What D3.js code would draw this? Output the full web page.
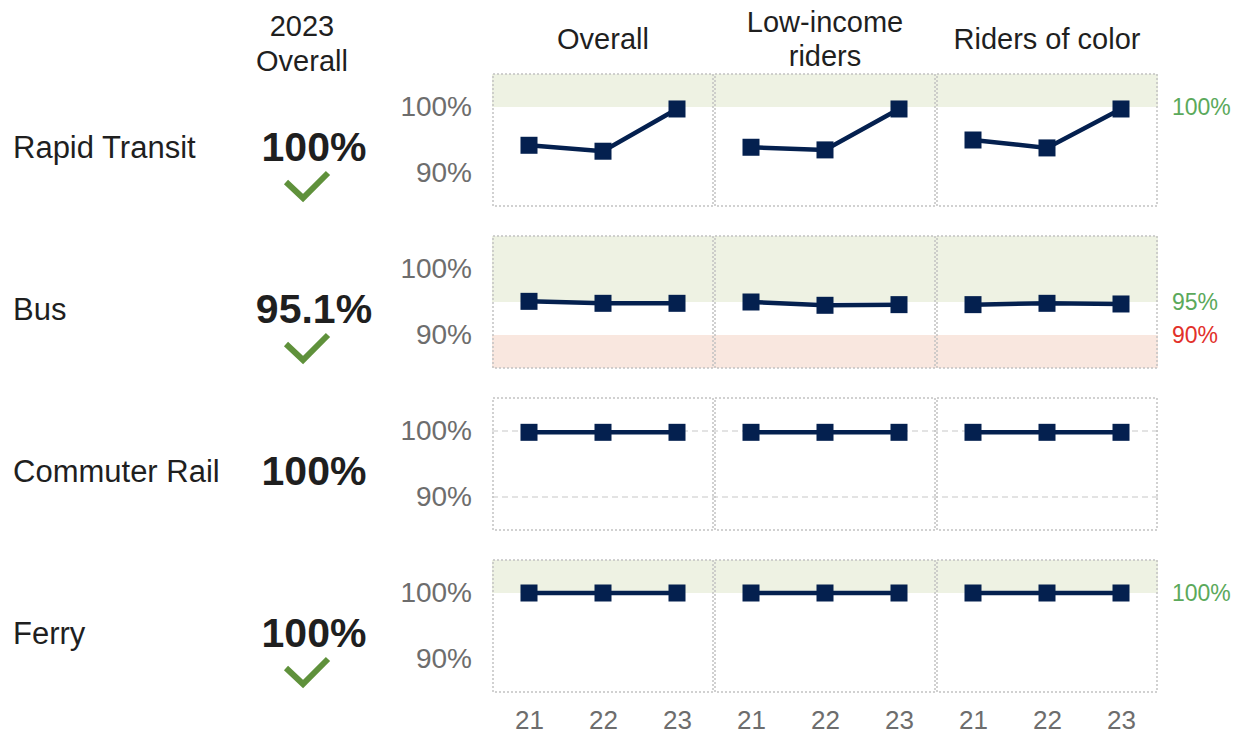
<!DOCTYPE html>
<html>
<head>
<meta charset="utf-8">
<script src="https://cdn.jsdelivr.net/npm/d3@7"></script>
<style>
  body { margin: 0; background: #fff; }
  svg { display: block; font-family: Arial, "Liberation Sans", sans-serif; }
</style>
</head>
<body>
<div id="chart"></div>
<script>
// Data
const modes = ['Rapid Transit', 'Bus', 'Commuter Rail', 'Ferry'];
const groups = [['Overall'], ['Low-income', 'riders'], ['Riders of color']];
const years = ['21', '22', '23'];
const overall2023 = ['100%', '95.1%', '100%', '100%'];
const metTarget = [true, true, false, true];

// one array per mode, one row per group, one value per year
const rapidTransit = [[94.2, 93.3, 99.7], [93.9, 93.5, 99.7], [95.0, 93.8, 99.7]];
const bus = [[95.1, 94.8, 94.8], [95.0, 94.5, 94.6], [94.6, 94.8, 94.7]];
const commuterRail = [[99.8, 99.8, 99.8], [99.8, 99.8, 99.8], [99.8, 99.8, 99.8]];
const ferry = [[100, 100, 100], [100, 100, 100], [100, 100, 100]];
const seriesByMode = [rapidTransit, bus, commuterRail, ferry];

const goodFrom = [100, 95, null, 100];   // green band above
const badBelow = [null, 90, null, null]; // red band below
const showGrid = [false, false, true, false];
const yTicks = [90, 100];

// Layout
const W = 1242, H = 738;
const panelLeft = 492, panelW = 222, panelH = 132;
const rowTops = [74, 236, 398, 560];
const colors = {
  line: '#04204f', good: '#eef2e3', bad: '#f9e7df', border: '#c2c2c2',
  grid: '#dadada', axis: '#6d6d6d', text: '#1f1f1f', check: '#5f913b',
  goodText: '#5ba95b', badText: '#e2302a'
};

const svg = d3.select('#chart').append('svg')
  .attr('width', W).attr('height', H);

const x = d3.scalePoint().domain(years).range([0, panelW]).padding(0.5);
const xFull = d3.scaleLinear().domain([0, groups.length]).range([panelLeft, panelLeft + panelW * groups.length]);

// Column headers
svg.append('text').attr('x', 302).attr('y', 36).attr('text-anchor', 'middle')
  .attr('font-size', 29).attr('fill', colors.text).text('2023');
svg.append('text').attr('x', 302).attr('y', 71).attr('text-anchor', 'middle')
  .attr('font-size', 29).attr('fill', colors.text).text('Overall');

groups.forEach((g, gi) => {
  const cx = xFull(gi + 0.5);
  const baseY = g.length === 1 ? 49 : 32;
  g.forEach((line, li) => {
    svg.append('text').attr('x', cx).attr('y', baseY + li * 34)
      .attr('text-anchor', 'middle').attr('font-size', 29)
      .attr('fill', colors.text).text(line);
  });
});

modes.forEach((mode, mi) => {
  const top = rowTops[mi];
  const y = d3.scaleLinear().domain([85, 105]).range([top + panelH, top]);
  const row = svg.append('g').attr('class', 'row');

  // Left labels
  row.append('text').attr('x', 13).attr('y', top + 84)
    .attr('font-size', 31).attr('fill', colors.text).text(mode);
  row.append('text').attr('x', 314).attr('y', top + 87)
    .attr('text-anchor', 'middle').attr('font-size', 41).attr('font-weight', 'bold')
    .attr('fill', colors.text).text(overall2023[mi]);
  if (metTarget[mi]) {
    row.append('path')
      .attr('d', `M286,${top + 108} L303,${top + 124} L328,${top + 99}`)
      .attr('fill', 'none').attr('stroke', colors.check).attr('stroke-width', 6);
  }

  const x0 = xFull(0), x1 = xFull(groups.length);

  // Target bands
  if (goodFrom[mi] != null) {
    row.append('rect').attr('x', x0).attr('width', x1 - x0)
      .attr('y', y(105)).attr('height', y(goodFrom[mi]) - y(105))
      .attr('fill', colors.good);
    row.append('text').attr('x', 1172).attr('y', y(goodFrom[mi]))
      .attr('dy', '0.36em').attr('font-size', 23).attr('fill', colors.goodText)
      .text(goodFrom[mi] + '%');
  }
  if (badBelow[mi] != null) {
    row.append('rect').attr('x', x0).attr('width', x1 - x0)
      .attr('y', y(badBelow[mi])).attr('height', y(85) - y(badBelow[mi]))
      .attr('fill', colors.bad);
    row.append('text').attr('x', 1172).attr('y', y(badBelow[mi]))
      .attr('dy', '0.36em').attr('font-size', 23).attr('fill', colors.badText)
      .text(badBelow[mi] + '%');
  }

  // Gridlines
  if (showGrid[mi]) {
    row.selectAll('.grid').data(yTicks).join('line')
      .attr('x1', x0).attr('x2', x1)
      .attr('y1', d => y(d)).attr('y2', d => y(d))
      .attr('stroke', colors.grid).attr('stroke-width', 1.5)
      .attr('stroke-dasharray', '6,4');
  }

  // Y axis labels
  const yAxis = d3.axisLeft(y).tickValues(yTicks).tickSize(0).tickPadding(0)
    .tickFormat(d => d + '%');
  const ya = row.append('g').attr('transform', `translate(472,0)`).call(yAxis);
  ya.select('.domain').remove();
  ya.selectAll('text').attr('font-size', 28).attr('fill', colors.axis)
    .attr('font-family', 'Arial, "Liberation Sans", sans-serif');

  // Panels
  groups.forEach((g, gi) => {
    const px = xFull(gi);
    const p = row.append('g').attr('transform', `translate(${px},0)`);
    p.append('rect').attr('x', 1).attr('y', top)
      .attr('width', panelW - 2).attr('height', panelH)
      .attr('fill', 'none').attr('stroke', colors.border)
      .attr('stroke-width', 1.5).attr('stroke-dasharray', '2,2');

    const vals = seriesByMode[mi][gi];
    const pts = years.map((yr, i) => [x(yr), y(vals[i])]);
    p.append('path').attr('d', d3.line()(pts))
      .attr('fill', 'none').attr('stroke', colors.line).attr('stroke-width', 4.5);
    p.selectAll('.m').data(pts).join('rect')
      .attr('x', d => d[0] - 8.5).attr('y', d => d[1] - 8.5)
      .attr('width', 17).attr('height', 17).attr('fill', colors.line);

    // X axis labels on the last row
    if (mi === modes.length - 1) {
      const xa = p.append('g').attr('transform', `translate(0,${top + panelH})`)
        .call(d3.axisBottom(x).tickSize(0).tickPadding(0));
      xa.select('.domain').remove();
      xa.selectAll('text').attr('y', 37).attr('dy', 0).attr('font-size', 26)
        .attr('fill', colors.axis)
        .attr('font-family', 'Arial, "Liberation Sans", sans-serif');
    }
  });
});
</script>
</body>
</html>
